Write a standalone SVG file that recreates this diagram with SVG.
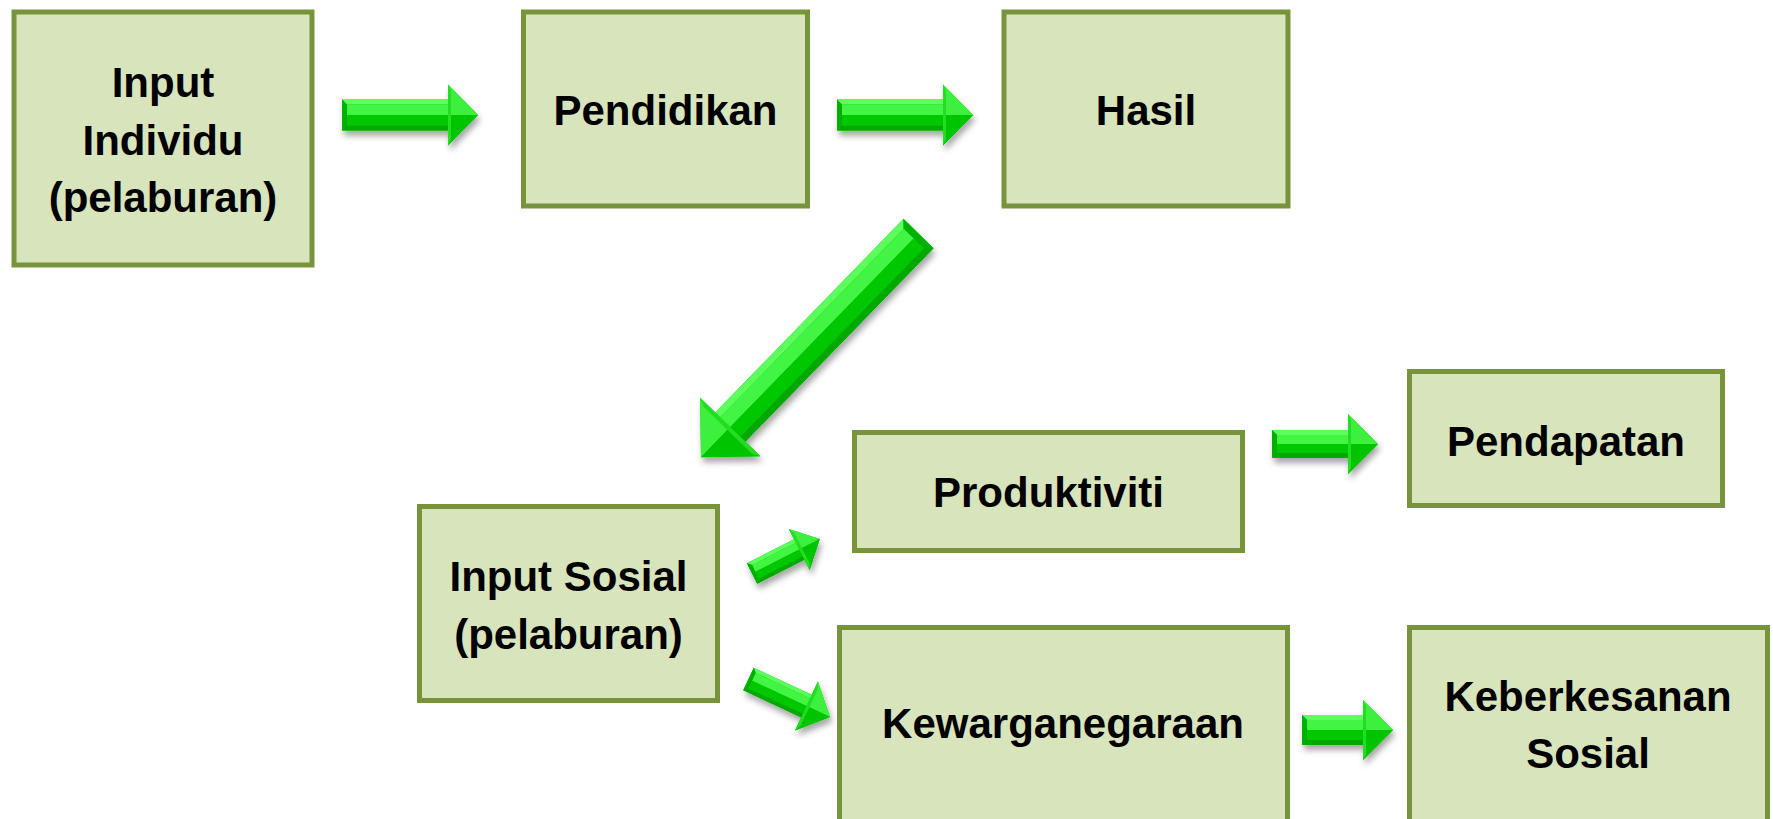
<svg xmlns="http://www.w3.org/2000/svg" xmlns:xlink="http://www.w3.org/1999/xlink" width="1773" height="819" viewBox="0 0 1773 819">
<style>
.box{fill:#D8E4BC;stroke:#77933C;stroke-width:5}
.lbl{font-family:"Liberation Sans",Arial,sans-serif;font-weight:bold;font-size:42px;fill:#000;text-anchor:middle}
.ol{fill:#00c000}
.tb{fill:#5cff5c}
.bb{fill:#00a800}
.lb{fill:#00b000}
.fu{fill:#42f542}
.fl{fill:#00c800}
.hu{fill:#3cf03c}
.hl{fill:#00c400}
.hb{fill:#22dd22}
</style>
<defs>
<filter id="sh" x="-20%" y="-20%" width="140%" height="160%">
<feDropShadow dx="2" dy="5" stdDeviation="3" flood-color="#000" flood-opacity="0.35"/>
</filter>
<g id="arrowH136">
<polygon class="ol" points="0,-15.5 106,-15.5 106,-30.5 136,0 106,30.5 106,15.5 0,15.5"/>
<polygon class="tb" points="0,-15.5 106,-15.5 106,-10.5 5,-10.5"/>
<polygon class="bb" points="0,15.5 106,15.5 106,10.5 5,10.5"/>
<polygon class="lb" points="0,-15.5 5,-10.5 5,10.5 0,15.5"/>
<polygon class="fu" points="5,-10.5 106,-10.5 106,0 5,0"/>
<polygon class="fl" points="5,0 106,0 106,10.5 5,10.5"/>
<polygon class="hu" points="106,-30.5 136,0 106,0"/>
<polygon class="hl" points="106,30.5 136,0 106,0"/>
<polygon class="hb" points="106,-30.5 109,-24.5 109,24.5 106,30.5"/>
</g>
</defs>

<g id="connectors">
<g filter="url(#sh)"><use xlink:href="#arrowH136" href="#arrowH136" transform="translate(342,115)"/></g>
<g filter="url(#sh)"><use xlink:href="#arrowH136" href="#arrowH136" transform="translate(837,115)"/></g>
<g filter="url(#sh)"><g transform="translate(918.5,233.5) rotate(134.2) scale(1,-1)">
<polygon class="ol" points="0,-21 270,-21 270,-42 312,0 270,42 270,21 0,21"/>
<polygon class="tb" points="0,-21 270,-21 270,-14 7,-14"/>
<polygon class="bb" points="0,21 270,21 270,14 7,14"/>
<polygon class="lb" points="0,-21 7,-14 7,14 0,21"/>
<polygon class="fu" points="7,-14 270,-14 270,0 7,0"/>
<polygon class="fl" points="7,0 270,0 270,14 7,14"/>
<polygon class="hu" points="270,-42 312,0 270,0"/>
<polygon class="hl" points="270,42 312,0 270,0"/>
<polygon class="hb" points="270,-42 274,-34 274,34 270,42"/>
</g></g>
<g filter="url(#sh)"><g transform="translate(752,573.5) rotate(-26.9)">
<polygon class="ol" points="0,-11.5 53,-11.5 53,-23 76,0 53,23 53,11.5 0,11.5"/>
<polygon class="tb" points="0,-11.5 53,-11.5 53,-7.5 4,-7.5"/>
<polygon class="bb" points="0,11.5 53,11.5 53,7.5 4,7.5"/>
<polygon class="lb" points="0,-11.5 4,-7.5 4,7.5 0,11.5"/>
<polygon class="fu" points="4,-7.5 53,-7.5 53,0 4,0"/>
<polygon class="fl" points="4,0 53,0 53,7.5 4,7.5"/>
<polygon class="hu" points="53,-23 76,0 53,0"/>
<polygon class="hl" points="53,23 76,0 53,0"/>
<polygon class="hb" points="53,-23 56,-17 56,17 53,23"/>
</g></g>
<g filter="url(#sh)"><g transform="translate(748.5,679) rotate(25)">
<polygon class="ol" points="0,-12.5 64,-12.5 64,-27 90,0 64,27 64,12.5 0,12.5"/>
<polygon class="tb" points="0,-12.5 64,-12.5 64,-8.5 4,-8.5"/>
<polygon class="bb" points="0,12.5 64,12.5 64,8.5 4,8.5"/>
<polygon class="lb" points="0,-12.5 4,-8.5 4,8.5 0,12.5"/>
<polygon class="fu" points="4,-8.5 64,-8.5 64,0 4,0"/>
<polygon class="fl" points="4,0 64,0 64,8.5 4,8.5"/>
<polygon class="hu" points="64,-27 90,0 64,0"/>
<polygon class="hl" points="64,27 90,0 64,0"/>
<polygon class="hb" points="64,-27 67,-20 67,20 64,27"/>
</g></g>
<g filter="url(#sh)"><g transform="translate(1272,444)">
<polygon class="ol" points="0,-14 76,-14 76,-30 106,0 76,30 76,14 0,14"/>
<polygon class="tb" points="0,-14 76,-14 76,-9 5,-9"/>
<polygon class="bb" points="0,14 76,14 76,9 5,9"/>
<polygon class="lb" points="0,-14 5,-9 5,9 0,14"/>
<polygon class="fu" points="5,-9 76,-9 76,0 5,0"/>
<polygon class="fl" points="5,0 76,0 76,9 5,9"/>
<polygon class="hu" points="76,-30 106,0 76,0"/>
<polygon class="hl" points="76,30 106,0 76,0"/>
<polygon class="hb" points="76,-30 79,-24 79,24 76,30"/>
</g></g>
<g filter="url(#sh)"><g transform="translate(1302,730)">
<polygon class="ol" points="0,-15 61,-15 61,-30 91,0 61,30 61,15 0,15"/>
<polygon class="tb" points="0,-15 61,-15 61,-10 5,-10"/>
<polygon class="bb" points="0,15 61,15 61,10 5,10"/>
<polygon class="lb" points="0,-15 5,-10 5,10 0,15"/>
<polygon class="fu" points="5,-10 61,-10 61,0 5,0"/>
<polygon class="fl" points="5,0 61,0 61,10 5,10"/>
<polygon class="hu" points="61,-30 91,0 61,0"/>
<polygon class="hl" points="61,30 91,0 61,0"/>
<polygon class="hb" points="61,-30 64,-24 64,24 61,30"/>
</g></g>
</g>

<g id="node-input-individu">
<rect class="box" x="14" y="12" width="298" height="253"/>
<text class="lbl" x="163" y="97">Input</text>
<text class="lbl" x="163" y="155">Individu</text>
<text class="lbl" x="163" y="212">(pelaburan)</text>
</g>
<g id="node-pendidikan">
<rect class="box" x="523.5" y="12" width="284" height="194"/>
<text class="lbl" x="665.5" y="125">Pendidikan</text>
</g>
<g id="node-hasil">
<rect class="box" x="1004" y="12" width="284" height="194"/>
<text class="lbl" x="1146" y="125">Hasil</text>
</g>
<g id="node-input-sosial">
<rect class="box" x="419.5" y="506.5" width="298" height="194"/>
<text class="lbl" x="568.5" y="591">Input Sosial</text>
<text class="lbl" x="568.5" y="649">(pelaburan)</text>
</g>
<g id="node-produktiviti">
<rect class="box" x="854.5" y="432.5" width="388" height="118"/>
<text class="lbl" x="1048.5" y="507">Produktiviti</text>
</g>
<g id="node-pendapatan">
<rect class="box" x="1409.5" y="371.5" width="313" height="134"/>
<text class="lbl" x="1566" y="456">Pendapatan</text>
</g>
<g id="node-kewarganegaraan">
<rect class="box" x="839.5" y="627.5" width="448" height="200"/>
<text class="lbl" x="1063" y="738">Kewarganegaraan</text>
</g>
<g id="node-keberkesanan-sosial">
<rect class="box" x="1409.5" y="627.5" width="358" height="200"/>
<text class="lbl" x="1588" y="711">Keberkesanan</text>
<text class="lbl" x="1588" y="768">Sosial</text>
</g>
</svg>
